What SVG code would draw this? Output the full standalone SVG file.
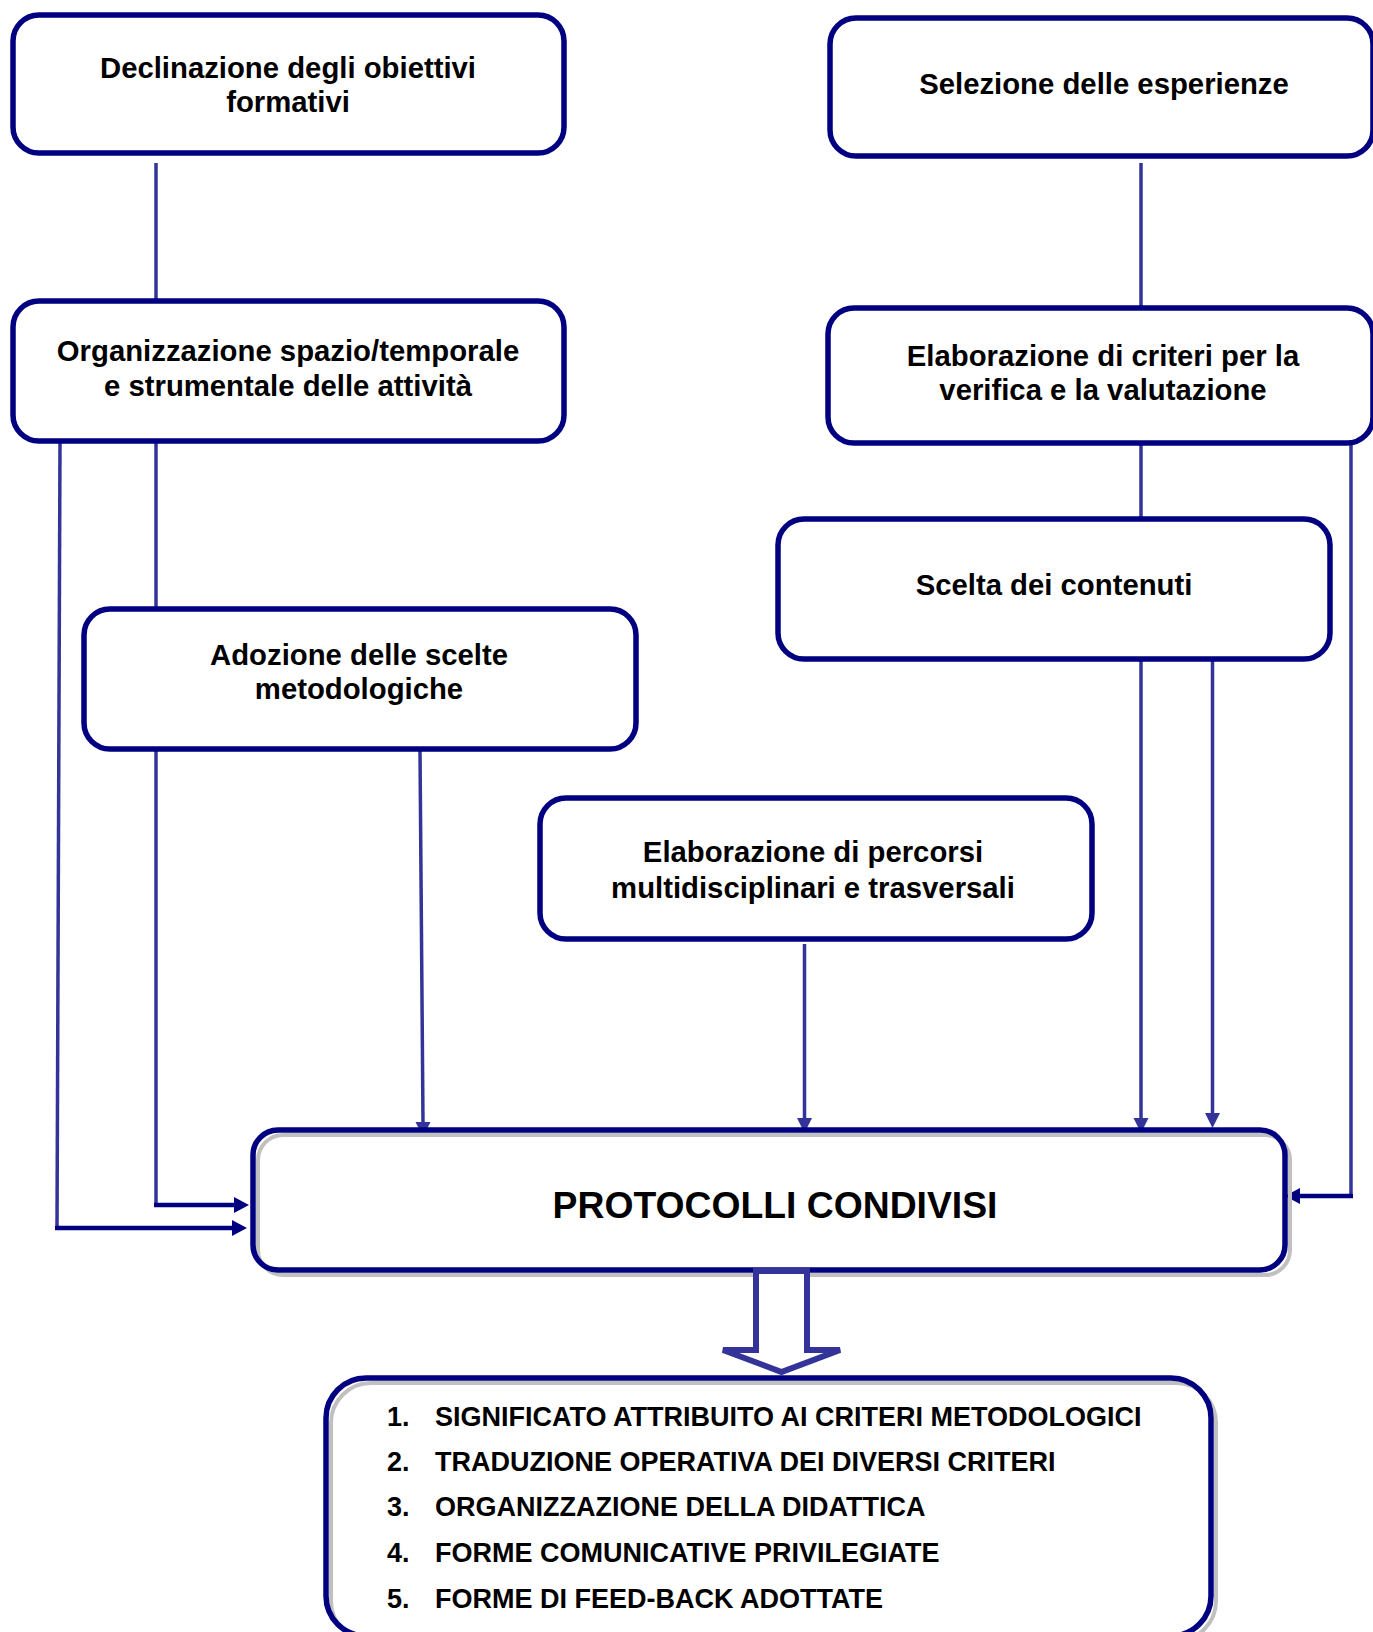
<svg xmlns="http://www.w3.org/2000/svg" width="1373" height="1632" viewBox="0 0 1373 1632">
<style>
.box{fill:#fff;stroke:#000080;stroke-width:5.5}
.shadow{fill:none;stroke:#c0c0c0;stroke-width:4}
.frame{fill:none;stroke:#000080;stroke-width:5.5}
.t{font-family:"Liberation Sans",Arial,sans-serif;font-weight:bold;font-size:29.3px;fill:#000;text-anchor:middle}
.big{font-size:37.3px}
.li{font-family:"Liberation Sans",Arial,sans-serif;font-weight:bold;font-size:27px;fill:#000}
.ln{fill:none;stroke:#333399;stroke-width:3.5}
.nv{fill:none;stroke:#000080;stroke-width:4.5}
</style>
<defs>
<marker id="ab" markerUnits="userSpaceOnUse" markerWidth="16" markerHeight="16" refX="0" refY="8" orient="auto">
<path d="M0,0.5 L15,8 L0,15.5 z" fill="#333399"/>
</marker>
<marker id="an" markerUnits="userSpaceOnUse" markerWidth="16" markerHeight="18" refX="0" refY="8" orient="auto">
<path d="M0,0 L15,8 L0,16 z" fill="#000080"/>
</marker>
</defs>
<rect width="1373" height="1632" fill="#fff"/>

<g id="connectors">
<line class="ln" x1="156" y1="163" x2="156" y2="300"/>
<line class="ln" x1="1141" y1="163" x2="1141" y2="308"/>
<line class="ln" x1="156" y1="442" x2="156" y2="609"/>
<line class="ln" x1="1141" y1="443" x2="1141" y2="519"/>
<polyline class="ln" points="60,442 57,1228"/>
<line class="nv" x1="55" y1="1228" x2="232" y2="1228" marker-end="url(#an)"/>
<line class="ln" x1="156" y1="750" x2="156" y2="1205"/>
<line class="nv" x1="154" y1="1205" x2="234" y2="1205" marker-end="url(#an)"/>
<line class="ln" x1="420" y1="751" x2="423" y2="1122" marker-end="url(#ab)"/>
<line class="ln" x1="804.5" y1="944" x2="804.5" y2="1118" marker-end="url(#ab)"/>
<line class="ln" x1="1141" y1="660" x2="1141" y2="1118" marker-end="url(#ab)"/>
<line class="ln" x1="1212.5" y1="660" x2="1212.5" y2="1113" marker-end="url(#ab)"/>
<line class="ln" x1="1351" y1="443" x2="1351" y2="1198"/>
<line class="nv" x1="1353" y1="1196" x2="1300" y2="1196" marker-end="url(#an)"/>
</g>

<g id="n1">
<rect class="box" x="13" y="15" width="551" height="138" rx="26"/>
<text class="t" x="288" y="78">Declinazione degli obiettivi</text>
<text class="t" x="288" y="112">formativi</text>
</g>
<g id="n2">
<rect class="box" x="830" y="18" width="543" height="138" rx="26"/>
<text class="t" x="1104" y="94">Selezione delle esperienze</text>
</g>
<g id="n3">
<rect class="box" x="13" y="301" width="551" height="140" rx="26"/>
<text class="t" x="288" y="361">Organizzazione spazio/temporale</text>
<text class="t" x="288" y="396">e strumentale delle attività</text>
</g>
<g id="n4">
<rect class="box" x="828" y="308" width="545" height="135" rx="26"/>
<text class="t" x="1103" y="366">Elaborazione di criteri per la</text>
<text class="t" x="1103" y="400">verifica e la valutazione</text>
</g>
<g id="n5">
<rect class="box" x="778" y="519" width="552" height="140" rx="26"/>
<text class="t" x="1054" y="595">Scelta dei contenuti</text>
</g>
<g id="n6">
<rect class="box" x="84" y="609" width="552" height="140" rx="26"/>
<text class="t" x="359" y="665">Adozione delle scelte</text>
<text class="t" x="359" y="699">metodologiche</text>
</g>
<g id="n7">
<rect class="box" x="540" y="798" width="552" height="141" rx="26"/>
<text class="t" x="813" y="862">Elaborazione di percorsi</text>
<text class="t" x="813" y="898">multidisciplinari e trasversali</text>
</g>
<g id="n8">
<rect x="253" y="1130" width="1032" height="140" rx="25" fill="#fff"/>
<rect class="shadow" x="258" y="1135" width="1032" height="140" rx="25"/>
<rect class="frame" x="253" y="1130" width="1032" height="140" rx="25"/>
<text class="t big" x="775" y="1218">PROTOCOLLI CONDIVISI</text>
</g>
<g id="n9">
<rect x="326" y="1378" width="885" height="258" rx="40" fill="#fff"/>
<rect class="shadow" x="331" y="1383" width="885" height="258" rx="40"/>
<rect class="frame" x="326" y="1378" width="885" height="258" rx="40"/>
<text class="li" x="387" y="1426">1.</text><text class="li" x="435" y="1426">SIGNIFICATO ATTRIBUITO AI CRITERI METODOLOGICI</text>
<text class="li" x="387" y="1471">2.</text><text class="li" x="435" y="1471">TRADUZIONE OPERATIVA DEI DIVERSI CRITERI</text>
<text class="li" x="387" y="1516">3.</text><text class="li" x="435" y="1516">ORGANIZZAZIONE DELLA DIDATTICA</text>
<text class="li" x="387" y="1562">4.</text><text class="li" x="435" y="1562">FORME COMUNICATIVE PRIVILEGIATE</text>
<text class="li" x="387" y="1608">5.</text><text class="li" x="435" y="1608">FORME DI FEED-BACK ADOTTATE</text>
</g>
<g id="blockarrow">
<polygon points="756,1271 807,1271 807,1350 840,1350 781.5,1372 723,1350 756,1350" fill="#fff" stroke="#333399" stroke-width="6" stroke-linejoin="miter"/>
</g>
</svg>
